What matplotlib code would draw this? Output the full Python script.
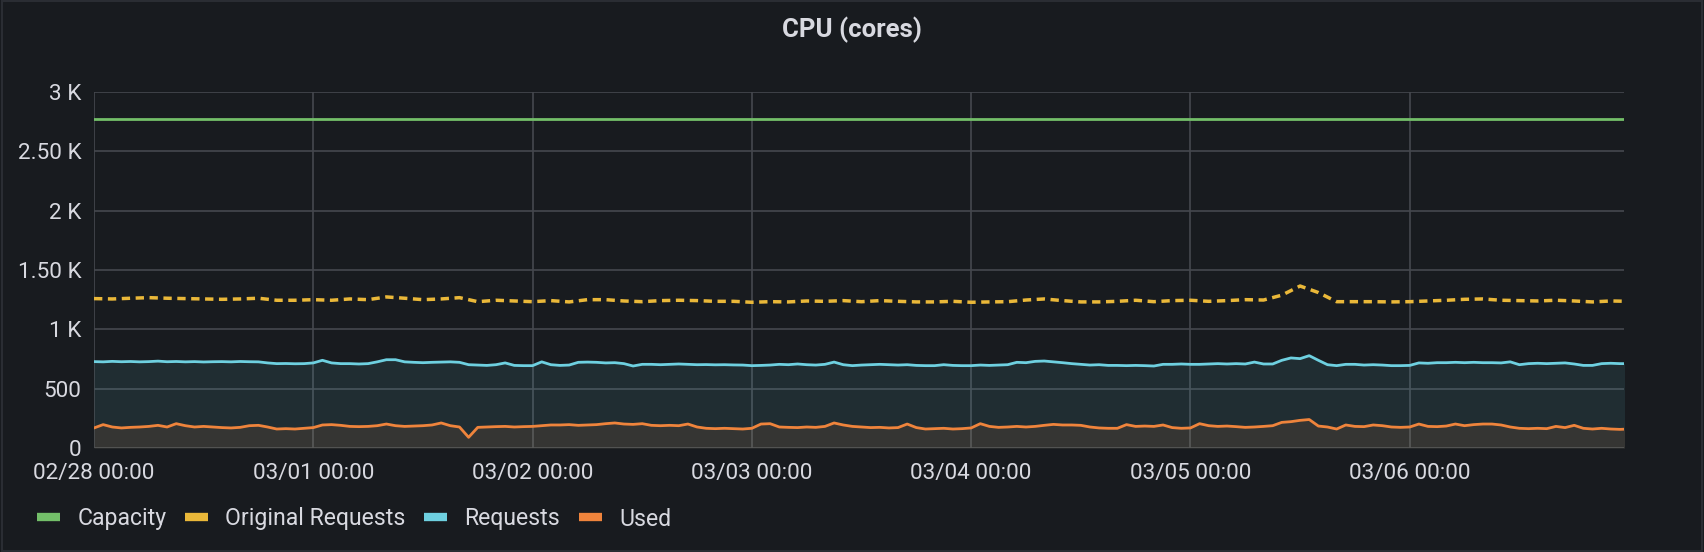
import matplotlib
matplotlib.use('Agg')
import matplotlib.pyplot as plt
import matplotlib.dates as mdates
import pandas as pd
from matplotlib.lines import Line2D
from matplotlib.patches import Rectangle

# ---------------- data ----------------
start_time = '2023-02-28 00:00'
capacity_value = 2775

used = [
    169, 197, 177, 169, 174, 177, 182, 191, 177, 205,
    188, 177, 182, 177, 172, 169, 174, 188, 191, 177,
    160, 163, 160, 166, 172, 194, 197, 191, 182, 180,
    182, 188, 202, 188, 182, 185, 188, 194, 211, 188,
    177, 90, 174, 177, 180, 182, 177, 180, 182, 188,
    194, 194, 197, 191, 194, 197, 205, 211, 202, 199,
    205, 191, 188, 191, 188, 202, 177, 166, 163, 166,
    163, 160, 166, 202, 205, 177, 174, 172, 177, 174,
    182, 211, 194, 182, 177, 172, 174, 169, 172, 202,
    172, 160, 163, 166, 160, 163, 169, 205, 182, 174,
    177, 182, 177, 182, 191, 199, 194, 194, 191, 177,
    169, 166, 166, 197, 182, 185, 182, 194, 172, 166,
    169, 205, 188, 182, 185, 180, 174, 177, 182, 188,
    216, 222, 233, 240, 185, 177, 160, 194, 182, 180,
    194, 188, 177, 174, 177, 202, 182, 180, 185, 202,
    188, 197, 202, 202, 194, 177, 166, 163, 166, 163,
    182, 172, 191, 166, 160, 166, 160, 157, 160,
]

requests = [
    728, 726, 730, 727, 729, 726, 728, 732, 727, 729,
    726, 728, 725, 727, 728, 726, 729, 727, 726, 717,
    711, 712, 710, 711, 717, 739, 717, 711, 711, 708,
    711, 726, 744, 744, 726, 722, 719, 722, 724, 726,
    722, 702, 699, 696, 702, 717, 696, 694, 694, 726,
    702, 696, 699, 722, 724, 722, 717, 719, 711, 691,
    705, 705, 702, 705, 708, 705, 702, 703, 701, 702,
    700, 699, 694, 696, 699, 705, 702, 708, 702, 699,
    705, 724, 702, 694, 699, 702, 705, 702, 699, 702,
    696, 694, 694, 702, 696, 694, 694, 699, 696, 699,
    702, 722, 719, 730, 733, 726, 719, 711, 705, 699,
    702, 696, 696, 694, 696, 694, 691, 705, 705, 708,
    705, 705, 708, 711, 708, 711, 708, 724, 708, 708,
    739, 759, 753, 778, 739, 702, 694, 705, 705, 699,
    702, 699, 694, 694, 696, 717, 714, 719, 719, 722,
    719, 722, 719, 719, 717, 726, 702, 711, 714, 711,
    714, 717, 708, 696, 696, 711, 714, 711, 711,
]

original_requests = [
    1259, 1256, 1262, 1267, 1262, 1259, 1256, 1253, 1256, 1262, 1245, 1245, 1250, 1245,
    1256, 1250, 1273, 1262, 1250, 1256, 1267, 1233, 1245, 1239, 1233, 1242, 1231, 1250,
    1250, 1239, 1233, 1242, 1245, 1242, 1236, 1236, 1228, 1233, 1231, 1239, 1236, 1242,
    1233, 1242, 1236, 1231, 1231, 1236, 1228, 1231, 1233, 1247, 1256, 1242, 1231, 1231,
    1236, 1245, 1233, 1242, 1245, 1236, 1242, 1250, 1247, 1288, 1365, 1310, 1233, 1233,
    1233, 1231, 1233, 1239, 1245, 1253, 1256, 1245, 1242, 1239, 1245, 1239, 1231, 1239, 1236,
]

series_names = ['Capacity', 'Original Requests', 'Requests', 'Used']
series_colors = ['#73BF69', '#EAB839', '#6ED0E0', '#EF843C']

y_ticks = [0, 500, 1000, 1500, 2000, 2500, 3000]
y_tick_labels = ['0', '500', '1 K', '1.50 K', '2 K', '2.50 K', '3 K']
x_tick_dates = ['2023-02-28', '2023-03-01', '2023-03-02', '2023-03-03',
                '2023-03-04', '2023-03-05', '2023-03-06']
title = 'CPU (cores)'

# ---------------- style ----------------
BG = '#181b1f'
GRID = '#45484e'
TXT = '#d8d9e0'
plt.rcParams['font.family'] = ['Roboto', 'DejaVu Sans']
plt.rcParams['lines.scale_dashes'] = False

t_hourly = pd.date_range(start_time, periods=len(used), freq='h')
t_2h = pd.date_range(start_time, periods=len(original_requests), freq='2h')
t0 = pd.Timestamp(start_time)
t_end = t0 + pd.Timedelta(hours=167.45)

fig = plt.figure(figsize=(17.04, 5.52), dpi=100, facecolor=BG)
ax = fig.add_axes([94 / 1704, 1 - 448 / 552, (1624 - 94) / 1704, (448 - 92) / 552])
ax.set_facecolor(BG)

# fills
ax.fill_between(t_hourly, 0, requests, color=series_colors[2], alpha=0.10, lw=0, zorder=1)
ax.fill_between(t_hourly, 0, used, color=series_colors[3], alpha=0.10, lw=0, zorder=1.1)

# lines
ax.plot([t0, t_end], [capacity_value, capacity_value], color=series_colors[0], lw=2.0, zorder=3)
ax.plot(t_2h, original_requests, color=series_colors[1], lw=2.5,
        linestyle=(0, (6.0, 4.0)), zorder=3)
ax.plot(t_hourly, requests, color=series_colors[2], lw=2.0, zorder=3)
ax.plot(t_hourly, used, color=series_colors[3], lw=2.0, zorder=3)

ax.set_xlim(t0, t_end)
ax.set_ylim(0, 3000)

ax.set_yticks(y_ticks)
ax.set_yticklabels(y_tick_labels)
ax.set_xticks(pd.to_datetime(x_tick_dates))
ax.xaxis.set_major_formatter(mdates.DateFormatter('%m/%d %H:%M'))

ax.tick_params(axis='both', length=0, colors=TXT, labelsize=16.2)
ax.tick_params(axis='x', pad=11)
ax.tick_params(axis='y', pad=9)
ax.grid(True, color=GRID, lw=1.2, zorder=0)
ax.set_axisbelow(True)
for s in ax.spines.values():
    s.set_visible(False)

fig.text(0.5, 1 - 30 / 552, title, ha='center', va='center', color=TXT,
         fontsize=18.5, fontweight='semibold')

handles = [Line2D([0], [0], color=c, lw=6, solid_capstyle='butt') for c in series_colors]
leg = fig.legend(handles, series_names, loc='center left',
                 bbox_to_anchor=(37 / 1704, 1 - 519 / 552), ncol=4, frameon=False,
                 fontsize=16.6, handlelength=1.0, handletextpad=0.75,
                 columnspacing=0.8, borderaxespad=0, borderpad=0)
for t in leg.get_texts():
    t.set_color(TXT)

# panel border
fig.patches.append(Rectangle((0.001, 0.002), 0.998, 0.996, transform=fig.transFigure,
                             fill=False, edgecolor='#2a2d33', lw=1.5))

fig.savefig('out.png', dpi=100, facecolor=BG)
